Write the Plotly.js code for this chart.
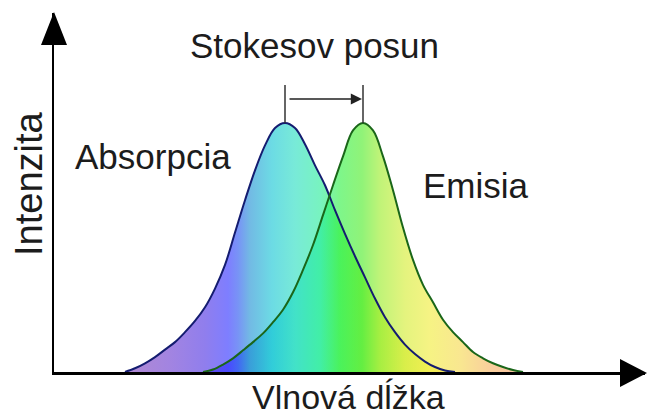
<!DOCTYPE html>
<html>
<head>
<meta charset="utf-8">
<script src="https://cdn.plot.ly/plotly-3.0.1.min.js"></script>
<style>
html,body{margin:0;padding:0;background:#ffffff;}
#chart{width:649px;height:418px;}
</style>
</head>
<body>
<div id="chart"></div>
<script>
// ---- data (wavelength in arbitrary units, intensity normalised to peak = 1) ----
const absorptionWavelength = [125,135,145,155,165,175,185,195,205,215,225,235,245,255,265,275,285,295,305,315,325,335,345,355,365,375,385,395,405,415,425,435,445,455];
const absorptionIntensity  = [0,0.015,0.035,0.06,0.09,0.12,0.16,0.205,0.26,0.335,0.43,0.56,0.69,0.81,0.91,0.98,1.0,0.98,0.915,0.83,0.75,0.65,0.555,0.465,0.38,0.295,0.22,0.16,0.11,0.072,0.042,0.02,0.006,0];
const emissionWavelength   = [203,213,223,233,243,253,263,273,283,293,303,313,323,333,343,353,363,373,383,393,403,413,423,433,443,453,463,473,483,493,503,513,523];
const emissionIntensity    = [0,0.01,0.03,0.055,0.087,0.12,0.155,0.2,0.25,0.32,0.41,0.51,0.63,0.75,0.866,0.97,1.0,0.97,0.866,0.73,0.58,0.45,0.35,0.28,0.21,0.16,0.12,0.08,0.055,0.035,0.02,0.008,0];

const titleText      = 'Stokesov posun';
const absorptionText = 'Absorpcia';
const emissionText   = 'Emisia';
const xAxisText      = 'Vlnová dĺžka';
const yAxisText      = 'Intenzita';

// ---- layout geometry ----
const W = 649, H = 418;
const M = {l:54, r:4, t:13, b:46};
const plotW = W - M.l - M.r, plotH = H - M.t - M.b;
const xMin = 54, xMax = xMin + plotW;          // axis range
const pxPerUnit = 249;                          // px per unit intensity
const yMax = plotH / pxPerUnit;
const vAt  = py => (H - M.b - py) / pxPerUnit;  // pixel row -> intensity units
const pX   = px => (px - M.l) / plotW;          // pixel -> paper
const pY   = py => (H - M.b - py) / plotH;

// spectrum colour scale (semi-transparent so overlaps deepen)
const specStops = [
  [125,'rgba(125,60,180,0.6)'],
  [170,'rgba(100,50,205,0.6)'],
  [205,'rgba(70,40,225,0.6)'],
  [228,'rgba(40,40,255,0.6)'],
  [238,'rgba(30,75,240,0.6)'],
  [250,'rgba(20,140,210,0.6)'],
  [272,'rgba(10,195,210,0.6)'],
  [295,'rgba(30,220,190,0.6)'],
  [320,'rgba(30,235,150,0.6)'],
  [340,'rgba(40,240,60,0.6)'],
  [362,'rgba(70,235,30,0.6)'],
  [380,'rgba(150,235,30,0.6)'],
  [405,'rgba(210,235,40,0.6)'],
  [430,'rgba(240,235,50,0.6)'],
  [460,'rgba(245,215,70,0.6)'],
  [490,'rgba(245,175,90,0.6)'],
  [525,'rgba(245,150,100,0.6)']
];
const gStart = specStops[0][0], gStop = specStops[specStops.length-1][0];
const spectrum = specStops.map(s => [(s[0]-gStart)/(gStop-gStart), s[1]]);
const grad = {type:'horizontal', start:gStart, stop:gStop, colorscale:spectrum};

const absPeakX = absorptionWavelength[absorptionIntensity.indexOf(Math.max(...absorptionIntensity))];
const emPeakX  = emissionWavelength[emissionIntensity.indexOf(Math.max(...emissionIntensity))];
const peakV = Math.max(...absorptionIntensity);

const traces = [
  {x:absorptionWavelength, y:absorptionIntensity, type:'scatter', mode:'lines',
   line:{shape:'spline', smoothing:1, width:0}, fill:'tozeroy', fillgradient:grad,
   hoverinfo:'skip', showlegend:false},
  {x:emissionWavelength, y:emissionIntensity, type:'scatter', mode:'lines',
   line:{shape:'spline', smoothing:1, width:0}, fill:'tozeroy', fillgradient:grad,
   hoverinfo:'skip', showlegend:false},
  {x:absorptionWavelength, y:absorptionIntensity, type:'scatter', mode:'lines',
   line:{shape:'spline', smoothing:1, width:2, color:'#141c70'}, hoverinfo:'skip', showlegend:false},
  {x:emissionWavelength, y:emissionIntensity, type:'scatter', mode:'lines',
   line:{shape:'spline', smoothing:1, width:2, color:'#1a6619'}, hoverinfo:'skip', showlegend:false}
];

const font = {family:'Liberation Sans, Arial, sans-serif', color:'#1c1c1c'};
const txt = (text, x, y, size, extra) => Object.assign({
  text, x, y, xref:'x', yref:'y', showarrow:false, xanchor:'center', yanchor:'middle',
  font:Object.assign({}, font, {size})
}, extra || {});

const layout = {
  width:W, height:H,
  margin:M,
  paper_bgcolor:'#ffffff', plot_bgcolor:'#ffffff',
  showlegend:false,
  xaxis:{range:[xMin,xMax], showgrid:false, zeroline:false, showticklabels:false, ticks:'',
         showline:true, linecolor:'#000000', linewidth:2.5, fixedrange:true},
  yaxis:{range:[0,yMax], showgrid:false, zeroline:false, showticklabels:false, ticks:'',
         showline:true, linecolor:'#000000', linewidth:2.5, fixedrange:true},
  shapes:[
    // axis arrowheads
    {type:'path', xref:'paper', yref:'paper', layer:'above',
     path:`M ${pX(54)} ${pY(12)} L ${pX(41)} ${pY(45)} L ${pX(67)} ${pY(45)} Z`,
     fillcolor:'#000000', line:{width:0}},
    {type:'path', xref:'paper', yref:'paper', layer:'above',
     path:`M ${pX(647)} ${pY(373)} L ${pX(620)} ${pY(359)} L ${pX(620)} ${pY(387)} Z`,
     fillcolor:'#000000', line:{width:0}},
    // Stokes shift markers at peaks
    {type:'line', xref:'x', yref:'y', x0:absPeakX, x1:absPeakX, y0:peakV, y1:vAt(85),
     line:{color:'#333333', width:1.5}},
    {type:'line', xref:'x', yref:'y', x0:emPeakX, x1:emPeakX, y0:peakV, y1:vAt(85),
     line:{color:'#333333', width:1.5}}
  ],
  annotations:[
    {x:emPeakX-1, y:vAt(99), ax:absPeakX+3, ay:vAt(99), xref:'x', yref:'y', axref:'x', ayref:'y',
     text:'', showarrow:true, arrowhead:2, arrowsize:1.4, arrowwidth:1.6, arrowcolor:'#222222'},
    txt(titleText, 314, vAt(45), 35),
    txt(absorptionText, 153, vAt(156.5), 35),
    txt(emissionText, 476, vAt(185), 35),
    txt(xAxisText, pX(348), pY(397), 34, {xref:'paper', yref:'paper'}),
    txt(yAxisText, pX(29), pY(184), 38, {xref:'paper', yref:'paper', textangle:-90})
  ]
};

Plotly.newPlot('chart', traces, layout, {staticPlot:true, displayModeBar:false});
</script>
</body>
</html>
